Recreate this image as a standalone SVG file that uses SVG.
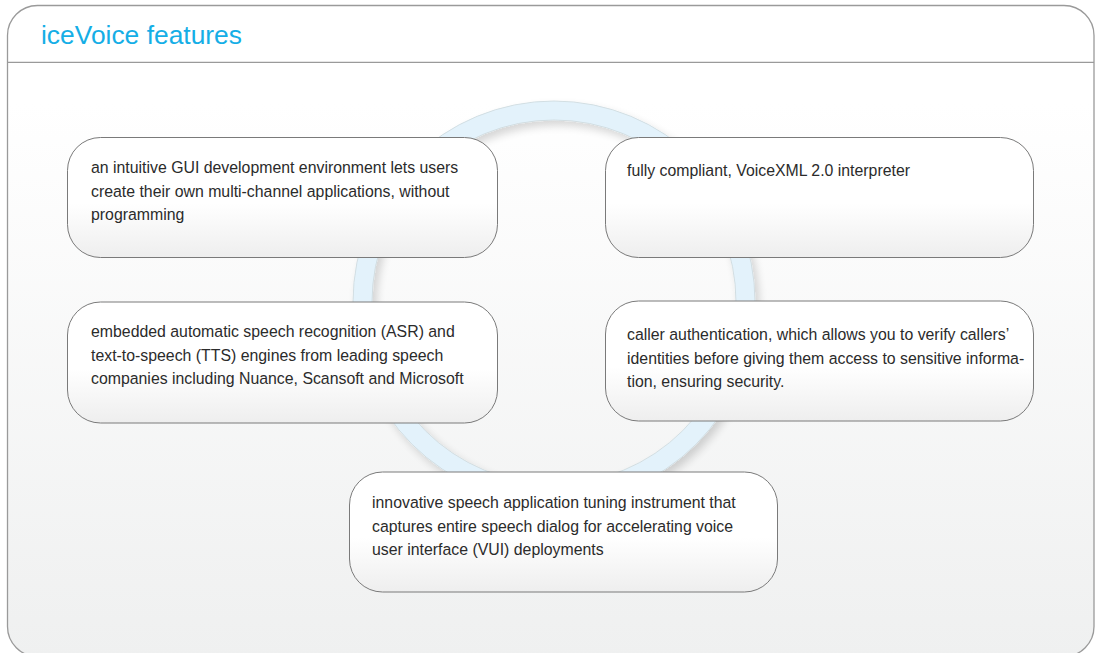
<svg xmlns="http://www.w3.org/2000/svg" width="1097" height="653" viewBox="0 0 1097 653">
  <defs>
    <linearGradient id="panelFill" x1="0" y1="0" x2="0" y2="1">
      <stop offset="0" stop-color="#ffffff"/>
      <stop offset="0.15" stop-color="#ffffff"/>
      <stop offset="1" stop-color="#eff0f0"/>
    </linearGradient>
    <linearGradient id="boxFill" x1="0" y1="0" x2="0" y2="1">
      <stop offset="0" stop-color="#ffffff"/>
      <stop offset="0.55" stop-color="#ffffff"/>
      <stop offset="1" stop-color="#eeeeee"/>
    </linearGradient>
    <filter id="ringShadow" x="-20%" y="-20%" width="140%" height="140%">
      <feGaussianBlur in="SourceAlpha" stdDeviation="4"/>
      <feOffset dx="4" dy="5" result="blur"/>
      <feComponentTransfer><feFuncA type="linear" slope="0.16"/></feComponentTransfer>
      <feMerge><feMergeNode/><feMergeNode in="SourceGraphic"/></feMerge>
    </filter>
    <style>
      .frame { fill: url(#panelFill); stroke: #9a9a9a; stroke-width: 1.3; }
      .rule { stroke: #9a9a9a; stroke-width: 1.3; }
      .title { font-family: "Liberation Sans", Arial, sans-serif; font-size: 26.4px; fill: #15aee6; }
      .box { fill: url(#boxFill); stroke: #7a7a7a; stroke-width: 1; }
      .label { font-family: "Liberation Sans", Arial, sans-serif; font-size: 15.85px; fill: #2b2b2b; }
      .band { fill: none; stroke: #e3f2fb; stroke-width: 19; }
      .edge { fill: none; stroke: #cfdbe0; stroke-width: 0.9; }
    </style>
  </defs>

  <!-- outer panel with header rule -->
  <g id="panel">
    <rect class="frame" x="7.5" y="5.5" width="1086.5" height="651" rx="30" ry="30"/>
    <line class="rule" x1="7.5" y1="62.3" x2="1094" y2="62.3"/>
    <text class="title" x="41" y="43.5">iceVoice features</text>
  </g>

  <!-- circular band linking the features -->
  <g id="connectors">
    <g id="cycle" filter="url(#ringShadow)">
      <circle class="band" cx="554" cy="302" r="191.5"/>
      <circle class="edge" cx="554" cy="302" r="201"/>
      <circle class="edge" cx="554" cy="302" r="182"/>
    </g>
  </g>

  <g id="feature-gui">
    <rect class="box" x="67.5" y="137.5" width="430" height="120" rx="33" ry="33"/>
    <text class="label" x="91" y="173">an intuitive GUI development environment lets users</text>
    <text class="label" x="91" y="196.5">create their own multi-channel applications, without</text>
    <text class="label" x="91" y="220">programming</text>
  </g>

  <g id="feature-voicexml">
    <rect class="box" x="605.5" y="137.5" width="428" height="120" rx="33" ry="33"/>
    <text class="label" x="627" y="176">fully compliant, VoiceXML 2.0 interpreter</text>
  </g>

  <g id="feature-asr-tts">
    <rect class="box" x="67.5" y="302" width="430" height="121" rx="33" ry="33"/>
    <text class="label" x="91" y="337">embedded automatic speech recognition (ASR) and</text>
    <text class="label" x="91" y="360.5">text-to-speech (TTS) engines from leading speech</text>
    <text class="label" x="91" y="384">companies including Nuance, Scansoft and Microsoft</text>
  </g>

  <g id="feature-authentication">
    <rect class="box" x="605.5" y="301" width="428" height="120" rx="33" ry="33"/>
    <text class="label" x="627" y="340">caller authentication, which allows you to verify callers’</text>
    <text class="label" x="627" y="363.5">identities before giving them access to sensitive informa-</text>
    <text class="label" x="627" y="387">tion, ensuring security.</text>
  </g>

  <g id="feature-tuning">
    <rect class="box" x="349.5" y="472" width="428" height="120" rx="33" ry="33"/>
    <text class="label" x="372" y="508">innovative speech application tuning instrument that</text>
    <text class="label" x="372" y="531.5">captures entire speech dialog for accelerating voice</text>
    <text class="label" x="372" y="555">user interface (VUI) deployments</text>
  </g>
</svg>
